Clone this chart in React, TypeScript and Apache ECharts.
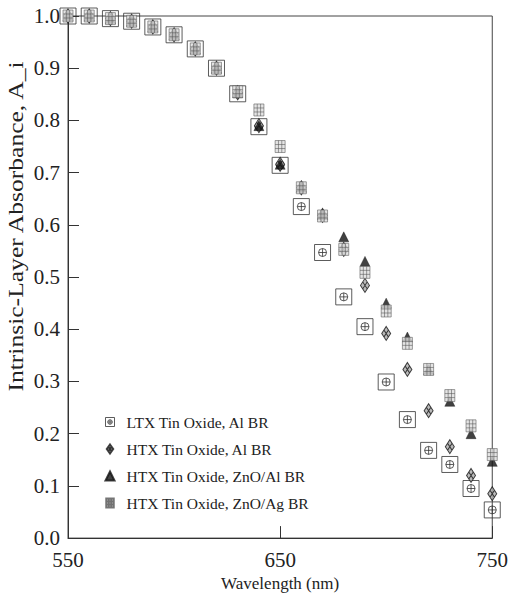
import React, { useEffect, useRef } from 'react';
import * as echarts from 'echarts';

const wavelengths = [550, 560, 570, 580, 590, 600, 610, 620, 630, 640, 650, 660, 670, 680, 690, 700, 710, 720, 730, 740, 750];
const ltxAlBR = [1.0, 1.0, 0.995, 0.99, 0.979, 0.964, 0.937, 0.9, 0.851, 0.788, 0.714, 0.635, 0.547, 0.462, 0.405, 0.299, 0.227, 0.168, 0.141, 0.095, 0.054];
const htxAlBR = [1.0, 1.0, 0.995, 0.99, 0.979, 0.964, 0.937, 0.9, 0.853, 0.79, 0.716, 0.671, 0.618, 0.553, 0.484, 0.392, 0.323, 0.244, 0.175, 0.12, 0.085];
const htxZnOAlBR = [1.0, 1.0, 0.995, 0.99, 0.979, 0.964, 0.937, 0.9, 0.853, 0.79, 0.716, 0.672, 0.62, 0.577, 0.53, 0.45, 0.385, 0.323, 0.262, 0.2, 0.147];
const htxZnOAgBR = [1.0, 1.0, 0.995, 0.99, 0.979, 0.964, 0.937, 0.9, 0.855, 0.82, 0.75, 0.671, 0.617, 0.553, 0.509, 0.435, 0.373, 0.323, 0.273, 0.215, 0.16];
const seriesNames = ['LTX Tin Oxide, Al BR', 'HTX Tin Oxide, Al BR', 'HTX Tin Oxide, ZnO/Al BR', 'HTX Tin Oxide, ZnO/Ag BR'];
const xTitle = 'Wavelength (nm)';
const yTitle = 'Intrinsic-Layer Absorbance, A_i';

const FONT = 'Liberation Serif';

const SYM_LTX = 'path://M0,0 H20 V20 H0 Z M15,10 A5,5 0 1,1 5,10 A5,5 0 1,1 15,10 Z M10,5 V15 M5,10 H15';
const SYM_DIAMOND = 'path://M5,0 L10,7 L5,14 L0,7 Z M2.5,3.5 L7.5,10.5 M7.5,3.5 L2.5,10.5';
const SYM_GRID = 'path://M0,0 H10 V12 H0 Z M3.33,0 V12 M6.67,0 V12 M0,4 H10 M0,8 H10';

function pairs(ys: number[]) {
  return wavelengths.map((x, i) => [x, ys[i]]);
}

export default function App() {
  const ref = useRef<HTMLDivElement>(null);
  useEffect(() => {
    if (!ref.current) return;
    const chart = echarts.init(ref.current, null, { renderer: 'svg' });
    const ySize = 20;
    let yScale = 1.28;
    try {
      const c = document.createElement('canvas').getContext('2d');
      if (c) {
        c.font = `${ySize}px "${FONT}"`;
        const w = c.measureText(yTitle).width;
        if (w > 0) yScale = 333 / w;
      }
    } catch (e) {}
    const option: any = {
      animation: false,
      backgroundColor: '#fff',
      textStyle: { fontFamily: FONT },
      grid: { left: 68, right: 15, top: 16, bottom: 58, show: true, borderColor: '#444', borderWidth: 1, backgroundColor: 'transparent' },
      xAxis: {
        type: 'value', min: 550, max: 750, interval: 100,
        name: xTitle, nameLocation: 'middle', nameGap: 36,
        nameTextStyle: { fontFamily: FONT, fontSize: 17, color: '#222' },
        axisLine: { lineStyle: { color: '#333', width: 1 } },
        axisTick: { inside: true, length: 12, lineStyle: { color: '#333' } },
        axisLabel: { fontFamily: FONT, fontSize: 21, color: '#222', margin: 11 },
        splitLine: { show: false },
      },
      yAxis: {
        type: 'value', min: 0, max: 1, interval: 0.1,
        axisLine: { show: true, lineStyle: { color: '#333', width: 1 } },
        axisTick: { show: true, inside: true, length: 11, lineStyle: { color: '#333' } },
        axisLabel: { fontFamily: FONT, fontSize: 21, color: '#222', margin: 8, formatter: (v: number) => v.toFixed(1) },
        splitLine: { show: false },
      },
      legend: {
        orient: 'vertical', left: 99.5, top: 409, itemGap: 11,
        itemWidth: 9, itemHeight: 9,
        textStyle: { fontFamily: FONT, fontSize: 15.5, color: '#222', padding: [0, 0, 0, 7] },
        data: [
          { name: seriesNames[0], itemStyle: { color: '#fff', borderColor: '#333', borderWidth: 1 } },
          { name: seriesNames[1] },
          { name: seriesNames[2] },
          { name: seriesNames[3] },
        ],
      },
      graphic: [
        {
          type: 'text', x: 16, y: 226.5, rotation: Math.PI / 2, scaleX: yScale,
          style: { text: yTitle, fontFamily: FONT, fontSize: ySize, fill: '#222', textAlign: 'center', textVerticalAlign: 'middle' },
        },
      ],
      series: [
        {
          name: seriesNames[0], type: 'scatter', clip: false, data: pairs(ltxAlBR),
          symbol: SYM_LTX, symbolSize: [16, 16],
          itemStyle: { color: 'rgba(255,255,255,0)', borderColor: '#333', borderWidth: 1 },
        },
        {
          name: seriesNames[1], type: 'scatter', clip: false, data: pairs(htxAlBR),
          symbol: SYM_DIAMOND, symbolSize: [9, 14],
          itemStyle: { color: '#aaa', borderColor: '#111', borderWidth: 1 },
        },
        {
          name: seriesNames[2], type: 'scatter', clip: false, data: pairs(htxZnOAlBR),
          symbol: 'triangle', symbolSize: [10, 10],
          itemStyle: { color: '#111', borderColor: '#111', borderWidth: 0.5 },
        },
        {
          name: seriesNames[3], type: 'scatter', clip: false, data: pairs(htxZnOAgBR),
          symbol: SYM_GRID, symbolSize: [10, 12],
          itemStyle: { color: '#ddd', borderColor: '#555', borderWidth: 0.7 },
        },
      ],
    };
    chart.setOption(option);
    return () => chart.dispose();
  }, []);
  return <div ref={ref} style={{ width: 511, height: 597, position: 'absolute', left: 0, top: 0 }} />;
}
